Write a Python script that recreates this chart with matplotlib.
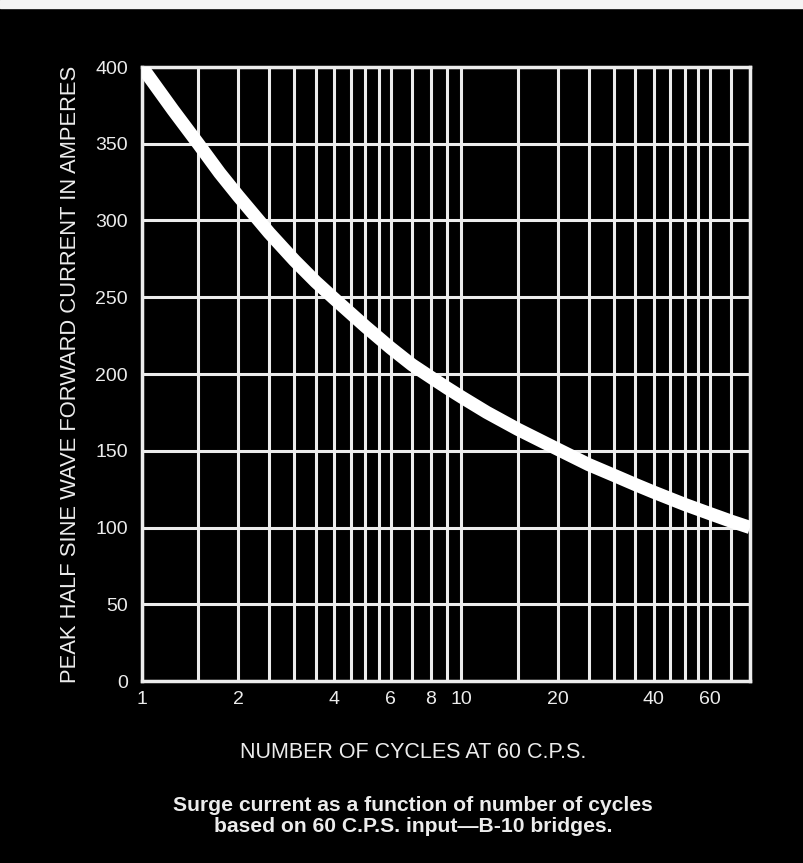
import numpy as np
import matplotlib.pyplot as plt
import matplotlib.patches as patches
from matplotlib.ticker import FixedLocator, NullFormatter

plt.rcParams['font.family'] = ['Liberation Sans', 'DejaVu Sans']

# surge curve
cycles = [1, 1.25, 1.5, 1.75, 2, 2.5, 3, 3.5, 4, 5, 6, 7, 8, 9, 10,
          12, 15, 20, 25, 30, 35, 40, 50, 60, 70, 80]
amps = [400, 372, 350, 331, 316, 292, 274, 260, 249, 231, 217, 206, 198, 191, 185,
        175, 164, 151, 141, 134, 128, 123, 115, 109, 104, 100]

x_grid = [1, 1.5, 2, 2.5, 3, 3.5, 4, 4.5, 5, 5.5, 6, 7, 8, 9, 10,
          15, 20, 25, 30, 35, 40, 45, 50, 55, 60, 70, 80]
x_labels = [1, 2, 4, 6, 8, 10, 20, 40, 60]
y_ticks = np.arange(0, 401, 50)

fg = '#ececec'

fig = plt.figure(figsize=(8.04, 8.63), dpi=100, facecolor='black')
# light strip along the top edge of the scan
fig.patches.append(patches.Rectangle((0, 1 - 8 / 863), 1, 8 / 863,
                                     transform=fig.transFigure,
                                     color='#f4f4f4', zorder=0))

ax = fig.add_axes([142 / 804, 1 - 681 / 863, (750 - 142) / 804, (681 - 67) / 863])
ax.set_facecolor('black')
ax.set_xscale('log')
ax.set_xlim(1, 80)
ax.set_ylim(0, 400)

for xv in x_grid:
    ax.axvline(xv, color=fg, lw=2.2, zorder=1)
for yv in y_ticks:
    ax.axhline(yv, color=fg, lw=2.2, zorder=1)

ax.plot(cycles, amps, color='white', lw=9.5, solid_capstyle='butt',
        solid_joinstyle='round', zorder=3)

for s in ax.spines.values():
    s.set_color(fg)
    s.set_linewidth(2.5)

ax.xaxis.set_major_locator(FixedLocator(x_labels))
ax.xaxis.set_minor_locator(FixedLocator([]))
ax.xaxis.set_minor_formatter(NullFormatter())
ax.set_xticklabels([str(v) for v in x_labels])
ax.set_yticks(y_ticks)
ax.tick_params(axis='both', length=0, colors=fg, labelsize=14)
ax.tick_params(axis='x', pad=7)
ax.tick_params(axis='y', pad=10)

ax.set_ylabel('PEAK HALF SINE WAVE FORWARD CURRENT IN AMPERES',
              color=fg, fontsize=15.8, labelpad=10)
fig.text(413 / 804, 1 - 752 / 863, 'NUMBER OF CYCLES AT 60 C.P.S.',
         color=fg, fontsize=15.5, ha='center', va='center')
fig.text(413 / 804, 1 - 816 / 863,
         'Surge current as a function of number of cycles\nbased on 60 C.P.S. input\u2014B-10 bridges.',
         color=fg, fontsize=15.2, fontweight='bold', ha='center', va='center',
         linespacing=1.1)

fig.savefig('out.png', dpi=100, facecolor='black')
